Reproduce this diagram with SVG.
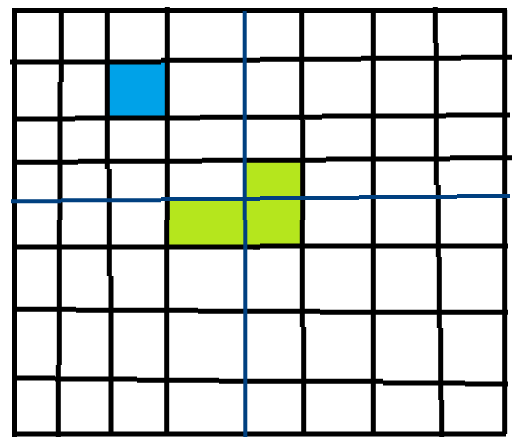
<svg xmlns="http://www.w3.org/2000/svg" width="513" height="445" viewBox="0 0 513 445">
<style>
.k{fill:none;stroke:#000;stroke-width:5;stroke-linecap:butt}
.b{fill:none;stroke:#004080;stroke-width:4;stroke-linecap:butt}
</style>
<rect width="513" height="445" fill="#fff"/>
<g id="cells">
<rect id="blue-cell" x="109" y="61" width="58" height="57" fill="#00A2E8"/>
<polygon id="green-cells" points="245,160 301,160 301,247 167,247 167,200 245,200" fill="#B5E61D"/>
</g>
<g id="grid">
<path class="k" d="M12,10.5H507"/>
<path class="k" d="M10,62H161M161,60.3H260M260,59.3H361M361,58.3H461M461,57.3H512"/>
<path class="k" d="M12,119H75M75,118H200M200,117.3H322M322,116H446M446,115H510"/>
<path class="k" d="M13,162.3H78M78,161.3H202M202,160.3H326M326,159H450M450,157.7H512"/>
<path class="k" d="M12,247H260M253,247.3H260M260,246H508"/>
<path class="k" d="M12,309.3H76M76,310.3H198M198,311.3H320M320,312.3H508"/>
<path class="k" d="M12,378H55M55,379H137M137,380.3H219M219,381.3H383M383,383H465M465,384H508"/>
<path class="k" d="M12,434H506"/>
<path class="k" d="M14.5,8V437"/>
<path class="k" d="M61.3,10V82M60,82V220M59.3,220V365M58.3,365V437"/>
<path class="k" d="M107.3,10V169M109.3,169V276M111,276V434"/>
<path class="k" d="M167.3,7V220M166.7,220V434"/>
<path class="k" d="M301.7,10V120M302.7,120V220M302.3,220V327M303.7,327V434"/>
<path class="k" d="M373.3,10V434"/>
<path class="k" d="M435.3,7V43M436.3,43V185M438.3,185V257M439.3,257V328M440.7,328V400M441.7,400V437"/>
<path class="k" d="M504.7,10V434"/>
</g>
<g id="axes">
<path class="b" d="M244.7,11V220M245.3,220V437"/>
<path class="b" d="M11,201.3H61M61,200.3H161M161,199H260M260,198H359M359,197H457M457,196H510"/>
</g>
</svg>
